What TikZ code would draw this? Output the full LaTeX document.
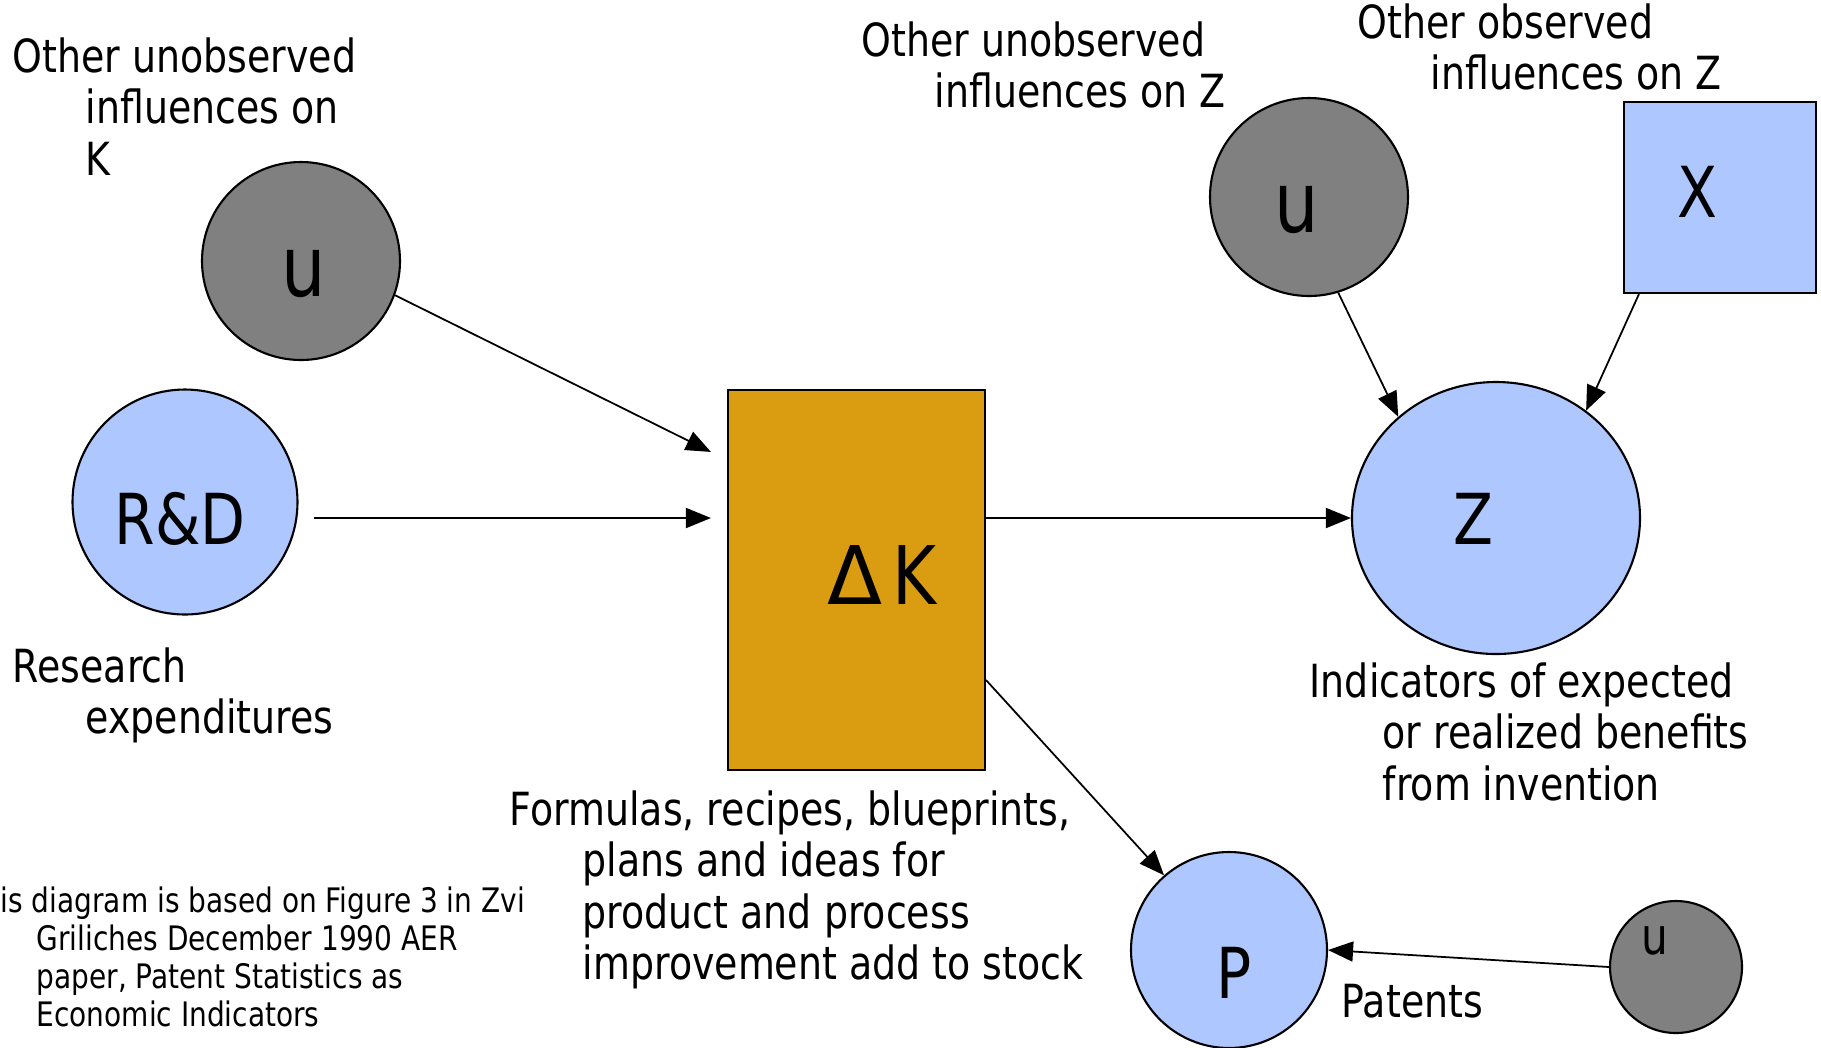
\documentclass[tikz,border=0pt]{standalone}
\usepackage{fontspec}
\usepackage{graphicx}
\setmainfont[FakeStretch=0.83]{DejaVu Sans}
\usetikzlibrary{arrows.meta,shapes.geometric}

\definecolor{obsblue}{RGB}{174,199,255}
\definecolor{unobsgrey}{RGB}{128,128,128}
\definecolor{stockgold}{RGB}{218,157,17}
\newcommand{\txtsize}{\fontsize{13}{14.6}\selectfont}
\newcommand{\capsize}{\fontsize{9.6}{10.8}\selectfont}
\newcommand{\ind}{\hspace*{7.3mm}}

\begin{document}
\begin{tikzpicture}[x=1cm,y=1cm,
  unobs/.style={circle,draw,fill=unobsgrey,line width=0.6pt,inner sep=0pt},
  obs/.style={draw,fill=obsblue,line width=0.6pt,inner sep=0pt},
  arr/.style={-{Triangle[length=2.5mm,width=2mm]},line width=0.5pt},
  txt/.style={anchor=north west,inner sep=0pt,align=left,font=\txtsize},
  big/.style={inner sep=0pt,font=\fontsize{20}{24}\selectfont}]
  \useasboundingbox (0,0) rectangle (18.21,-10.47);

  % shapes
  \node[unobs,minimum size=1.98cm] (uK) at (3.01,-2.61) {};
  \node[obs,circle,minimum size=2.25cm] (RD) at (1.85,-5.02) {};
  \node[draw,fill=stockgold,line width=0.6pt,minimum width=2.57cm,minimum height=3.80cm] (dK) at (8.565,-5.80) {};
  \node[obs,ellipse,minimum width=2.88cm,minimum height=2.72cm] (Z) at (14.96,-5.18) {};
  \node[unobs,minimum size=1.98cm] (uZ) at (13.09,-1.97) {};
  \node[obs,rectangle,minimum width=1.92cm,minimum height=1.91cm] (X) at (17.20,-1.975) {};
  \node[obs,circle,minimum size=1.96cm] (P) at (12.29,-9.50) {};
  \node[unobs,minimum size=1.32cm] (uP) at (16.76,-9.67) {};

  % letters in the shapes
  \node[big,font=\fontsize{24}{28}\selectfont] (uKtxt) at (3.04,-2.73) {u};
  \node[big] (RDtxt) at (1.80,-5.19) {R\&D};
  \node[big,font=\fontsize{23}{27}\selectfont] (dKtxt) at (8.82,-5.75) {\scalebox{1.2}[1]{Δ}\kern0.12em K};
  \node[big] (Ztxt) at (14.73,-5.19) {Z};
  \node[big,font=\fontsize{24}{28}\selectfont] (uZtxt) at (12.97,-2.09) {u};
  \node[big] (Xtxt) at (16.97,-1.92) {X};
  \node[big] (Ptxt) at (12.34,-9.73) {P};
  \node[big,font=\fontsize{14.5}{17}\selectfont] (uPtxt) at (16.55,-9.41) {u};

  % captions
  \node[txt] (uKcap) at (0.12,-0.37) {Other unobserved\\\ind influences on\\\ind K};
  \node[txt] (RDcap) at (0.12,-6.47) {Research\\\ind expenditures};
  \node[txt] (uZcap) at (8.61,-0.21) {Other unobserved\\\ind influences on Z};
  \node[txt] (Xcap) at (13.57,-0.03) {Other observed\\\ind influences on Z};
  \node[txt] (Zcap) at (13.09,-6.62) {Indicators of expected\\\ind or realized benefits\\\ind from invention};
  \node[txt] (dKcap) at (5.09,-7.90) {Formulas, recipes, blueprints,\\\ind plans and ideas for\\\ind product and process\\\ind improvement add to stock};
  \node[txt] (Pcap) at (13.41,-9.83) {Patents};
  \node[txt,font=\capsize] (src) at (0.00,-8.86) {is diagram is based on Figure 3 in Zvi\\\hspace*{3.6mm}Griliches December 1990 AER\\\hspace*{3.6mm}paper, Patent Statistics as\\\hspace*{3.6mm}Economic Indicators};

  % arrows
  \draw[arr] (uK.-20) -- ([xshift=-1.6mm,yshift=-6.3mm]dK.north west);
  \draw[arr,shorten <=1.5mm,shorten >=1.6mm] (RD.east |- Z.west) -- (dK.west |- Z.west);
  \draw[arr] (dK.east |- Z.west) -- (Z.west);
  \draw[arr] ([yshift=9.1mm]dK.south east) -- (P.131);
  \draw[arr] (uZ.-73) -- (Z.134);
  \draw[arr] ([xshift=1.6mm]X.south west) -- (Z.50);
  \draw[arr] (uP.west) -- (P.east);
\end{tikzpicture}
\end{document}
